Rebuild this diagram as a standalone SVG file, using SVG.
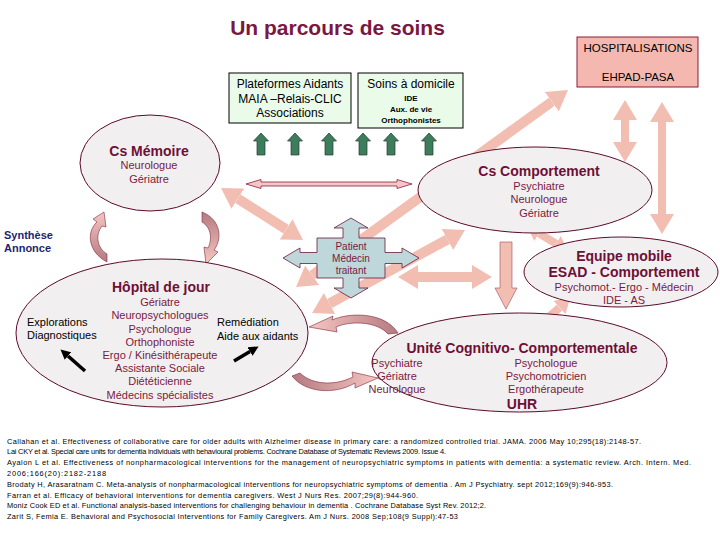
<svg xmlns="http://www.w3.org/2000/svg" width="720" height="540" viewBox="0 0 720 540">
<style>
text{font-family:"Liberation Sans",Arial,sans-serif;}
.hd{font-weight:bold;font-size:14px;fill:#6E1035;text-anchor:middle;}
.it{font-size:11px;fill:#7A1A40;text-anchor:middle;}
.blk{font-size:11px;fill:#000;}
.ell{fill:#F2EFF0;stroke:#5C0A2C;stroke-width:1;}
.gbox{fill:#EAFBEA;stroke:#000;stroke-width:1;}
.sal{stroke:#F3BEB2;fill:none;}
.grn{fill:#3C7D5C;stroke:#263a30;stroke-width:0.7;}
.crv{stroke:#7A2A40;stroke-width:0.6;}
.ref{font-size:7.4px;fill:#000;}
</style>
<defs>
<marker id="hb" markerUnits="userSpaceOnUse" markerWidth="20" markerHeight="24" viewBox="0 0 20 24" refX="0" refY="12" orient="auto-start-reverse"><path d="M0,0 L20,12 L0,24 Z" fill="#F3BEB2"/></marker>
<marker id="hs" markerUnits="userSpaceOnUse" markerWidth="14" markerHeight="18" viewBox="0 0 14 18" refX="0" refY="9" orient="auto-start-reverse"><path d="M0,0 L14,9 L0,18 Z" fill="#F3BEB2"/></marker>
<marker id="hk" markerUnits="userSpaceOnUse" markerWidth="10" markerHeight="10" viewBox="0 0 10 10" refX="0" refY="5" orient="auto"><path d="M0,0 L10,5 L0,10 Z" fill="#000"/></marker>
<linearGradient id="gL" x1="0" y1="0" x2="0" y2="1"><stop offset="0" stop-color="#F6C6C2"/><stop offset="1" stop-color="#B57A80"/></linearGradient>
<linearGradient id="gR" x1="0" y1="0" x2="0" y2="1"><stop offset="0" stop-color="#B57A80"/><stop offset="1" stop-color="#F6C6C2"/></linearGradient>
<linearGradient id="gU1" x1="1" y1="0" x2="0" y2="0"><stop offset="0" stop-color="#B57A80"/><stop offset="1" stop-color="#F6C6C2"/></linearGradient>
<linearGradient id="gU2" x1="0" y1="0" x2="1" y2="0"><stop offset="0" stop-color="#B57A80"/><stop offset="1" stop-color="#F6C6C2"/></linearGradient>
</defs>
<rect width="720" height="540" fill="#fff"/>
<text x="337.5" y="35" font-size="21" font-weight="bold" fill="#7B1740" text-anchor="middle">Un parcours de soins</text>

<g id="connectors">
  <line class="sal" stroke-width="10" x1="312.2" y1="275.3" x2="551.8" y2="101.7" marker-start="url(#hb)" marker-end="url(#hb)"/>
  <line class="sal" stroke-width="10" x1="329.6" y1="303.5" x2="447.4" y2="239.5" marker-start="url(#hb)" marker-end="url(#hb)"/>
  <line class="sal" stroke-width="10" x1="237.9" y1="198.7" x2="286.1" y2="229.3" marker-start="url(#hb)" marker-end="url(#hb)"/>
  <line class="sal" stroke-width="10" x1="418" y1="277" x2="472" y2="277" marker-start="url(#hb)" marker-end="url(#hb)"/>
  <line class="sal" stroke-width="8" x1="539" y1="233.3" x2="556" y2="243.7" marker-start="url(#hs)" marker-end="url(#hs)"/>
  <line class="sal" stroke-width="8" x1="559.6" y1="307.4" x2="540.4" y2="324.6" marker-start="url(#hs)" marker-end="url(#hs)"/>
  <line class="sal" stroke-width="8" x1="625" y1="120" x2="625" y2="142" marker-start="url(#hb)" marker-end="url(#hb)"/>
  <line class="sal" stroke-width="8" x1="662" y1="122" x2="662" y2="214" marker-start="url(#hb)" marker-end="url(#hb)"/>
  <polygon points="500,242 512,242 512,288 517,288 506,309 495,288 500,288" fill="#F3BEB2" stroke="#9A4A5A" stroke-width="0.6"/>
  <polygon points="246,184 261,179.5 261,182 397,182 397,179.5 412,184 397,188.5 397,186 261,186 261,188.5" fill="#F6C5C5" stroke="#8B2040" stroke-width="0.8"/>
  <g>
    <polygon class="grn" points="261,133 268.5,141 265,141 265,155 257,155 257,141 253.5,141"/>
    <polygon class="grn" points="295,133 302.5,141 299,141 299,155 291,155 291,141 287.5,141"/>
    <polygon class="grn" points="329,133 336.5,141 333,141 333,155 325,155 325,141 321.5,141"/>
    <polygon class="grn" points="363,133 370.5,141 367,141 367,155 359,155 359,141 355.5,141"/>
    <polygon class="grn" points="391,133 398.5,141 395,141 395,155 387,155 387,141 383.5,141"/>
    <polygon class="grn" points="429,133 436.5,141 433,141 433,155 425,155 425,141 421.5,141"/>
  </g>
  <path class="crv" fill="url(#gL)" d="M107,262 C88,252 86,232 97,222 L93,219 L104,212 L106,227 L102,226 C95,235 97,248 107,254 Z"/>
  <path class="crv" fill="url(#gR)" d="M202,212 C222,220 222,240 214,250 L218,252 L206,264 L204,247 L208,248 C212,240 212,228 202,222 Z"/>
  <path class="crv" fill="url(#gU1)" d="M398,333 C385,312 350,312 332,320 L333,316 L309,327 L337,332 L336,327 C352,320 378,322 388,334 Z"/>
  <path class="crv" fill="url(#gU2)" d="M292,376 C305,393 335,395 355,383 L355,388 L378,378 L352,372 L353,377 C335,386 312,385 300,373 Z"/>
</g>

<g id="hospitalisations">
  <rect x="577" y="37" width="121" height="50" fill="#F4B8B0" stroke="#8B1A3A" stroke-width="1"/>
  <text x="638" y="52" font-size="11.5" text-anchor="middle" fill="#000">HOSPITALISATIONS</text>
  <text x="638" y="81" font-size="11.5" text-anchor="middle" fill="#000">EHPAD-PASA</text>
</g>
<g id="plateformes">
  <rect class="gbox" x="229" y="73" width="122" height="50"/>
  <text x="290" y="88" font-size="12" text-anchor="middle">Plateformes Aidants</text>
  <text x="290" y="103" font-size="12" text-anchor="middle">MAIA –Relais-CLIC</text>
  <text x="290" y="117" font-size="12" text-anchor="middle">Associations</text>
</g>
<g id="soins-domicile">
  <rect class="gbox" x="358" y="73" width="105" height="55"/>
  <text x="411" y="88" font-size="12" text-anchor="middle">Soins à domicile</text>
  <text x="411" y="101" font-size="8" font-weight="bold" text-anchor="middle">IDE</text>
  <text x="411" y="112" font-size="8" font-weight="bold" text-anchor="middle">Aux. de vie</text>
  <text x="411" y="123" font-size="8" font-weight="bold" text-anchor="middle">Orthophonistes</text>
</g>
<g id="cs-memoire">
  <ellipse class="ell" cx="150" cy="163" rx="70" ry="48"/>
  <text class="hd" x="149" y="156">Cs Mémoire</text>
  <text class="it" x="149" y="169">Neurologue</text>
  <text class="it" x="149" y="183">Gériatre</text>
</g>
<g id="cs-comportement">
  <ellipse class="ell" cx="535" cy="190" rx="117" ry="43"/>
  <text class="hd" x="539" y="176" font-size="13.5">Cs Comportement</text>
  <text class="it" x="539" y="190">Psychiatre</text>
  <text class="it" x="539" y="203">Neurologue</text>
  <text class="it" x="539" y="217">Gériatre</text>
</g>
<g id="patient">
  <polygon points="351,218 368,228 359,228 359,238 385,238 385,252.5 402,252.5 402,248 419,258 402,268 402,263.5 385,263.5 385,278 359,278 359,288 368,288 351,298 334,288 343,288 343,278 317,278 317,263.5 300,263.5 300,268 283,258 300,248 300,252.5 317,252.5 317,238 343,238 343,228 334,228" fill="#BDD7DB" stroke="#6B1A3A" stroke-width="0.8"/>
  <text x="351" y="249.5" font-size="10" text-anchor="middle" fill="#7A1A40">Patient</text>
  <text x="351" y="262" font-size="10" text-anchor="middle" fill="#7A1A40">Médecin</text>
  <text x="351" y="274" font-size="10" text-anchor="middle" fill="#7A1A40">traitant</text>
</g>
<g id="equipe-mobile">
  <ellipse class="ell" cx="621" cy="272" rx="97" ry="35"/>
  <text class="hd" x="624" y="261">Equipe mobile</text>
  <text class="hd" x="624" y="277" textLength="151" lengthAdjust="spacingAndGlyphs">ESAD - Comportement</text>
  <text class="it" x="624" y="291">Psychomot.- Ergo - Médecin</text>
  <text class="it" x="624" y="304">IDE - AS</text>
</g>
<g id="hopital-jour">
  <ellipse class="ell" cx="162" cy="333" rx="146" ry="74"/>
  <text class="hd" x="161" y="292">Hôpital de jour</text>
  <text class="it" x="160" y="306">Gériatre</text>
  <text class="it" x="160" y="319">Neuropsychologues</text>
  <text class="it" x="160" y="333">Psychologue</text>
  <text class="it" x="160" y="346">Orthophoniste</text>
  <text class="it" x="160" y="359">Ergo / Kinésithérapeute</text>
  <text class="it" x="160" y="372">Assistante Sociale</text>
  <text class="it" x="160" y="385">Diététicienne</text>
  <text class="it" x="160" y="399">Médecins spécialistes</text>
  <text class="blk" x="27" y="326">Explorations</text>
  <text class="blk" x="27" y="339">Diagnostiques</text>
  <text class="blk" x="217" y="326">Remédiation</text>
  <text class="blk" x="217" y="340">Aide aux aidants</text>
  <line x1="85" y1="371" x2="68" y2="356" stroke="#000" stroke-width="3.5" marker-end="url(#hk)"/>
  <line x1="234" y1="361" x2="250" y2="351.5" stroke="#000" stroke-width="3.5" marker-end="url(#hk)"/>
</g>
<g id="ucc">
  <ellipse class="ell" cx="519.5" cy="362.5" rx="147.5" ry="49.5"/>
  <text class="hd" x="522" y="353">Unité Cognitivo- Comportementale</text>
  <text class="it" x="397" y="367" text-anchor="start">Psychiatre</text>
  <text class="it" x="397" y="380" text-anchor="start">Gériatre</text>
  <text class="it" x="397" y="393" text-anchor="start">Neurologue</text>
  <text class="it" x="546" y="367" text-anchor="start">Psychologue</text>
  <text class="it" x="546" y="380" text-anchor="start">Psychomotricien</text>
  <text class="it" x="546" y="393" text-anchor="start">Ergothérapeute</text>
  <text class="hd" x="522" y="409">UHR</text>
</g>
<g id="synthese">
  <text x="4" y="239" font-size="11" font-weight="bold" fill="#1F1F70">Synthèse</text>
  <text x="4" y="252" font-size="11" font-weight="bold" fill="#1F1F70">Annonce</text>
</g>
<g id="references">
  <text class="ref" x="7" y="443.5" textLength="634" lengthAdjust="spacing">Callahan et al. Effectiveness of collaborative care for older adults with Alzheimer disease in primary care: a randomized controlled trial.  JAMA. 2006 May 10;295(18):2148-57.</text>
  <text class="ref" x="7" y="454.3" textLength="439" lengthAdjust="spacing">Lai CKY et al. Special care units for dementia individuals with behavioural problems.  Cochrane Database of Systematic Reviews 2009. Issue 4.</text>
  <text class="ref" x="7" y="465.1" textLength="684" lengthAdjust="spacing">Ayalon L et al. Effectiveness of nonpharmacological interventions for the management of neuropsychiatric symptoms in patients with dementia: a systematic review.  Arch. Intern. Med.</text>
  <text class="ref" x="7" y="475.9" textLength="99" lengthAdjust="spacing">2006;166(20):2182-2188</text>
  <text class="ref" x="7" y="486.7" textLength="606" lengthAdjust="spacing">Brodaty H, Arasaratnam C. Meta-analysis of nonpharmacological interventions for neuropsychiatric symptoms of dementia . Am J Psychiatry. sept 2012;169(9):946-953.</text>
  <text class="ref" x="7" y="497.5" textLength="411" lengthAdjust="spacing">Farran et al. Efficacy of behavioral interventions for dementia caregivers.  West J Nurs Res. 2007;29(8):944-960.</text>
  <text class="ref" x="7" y="508.3" textLength="479" lengthAdjust="spacing">Moniz Cook ED et al. Functional analysis-based interventions for challenging behaviour in dementia . Cochrane Database Syst Rev. 2012;2.</text>
  <text class="ref" x="7" y="519.1" textLength="451" lengthAdjust="spacing">Zarit S, Femia E. Behavioral and Psychosocial Interventions for Family Caregivers.  Am J Nurs. 2008 Sep;108(9 Suppl):47-53</text>
</g>
</svg>
